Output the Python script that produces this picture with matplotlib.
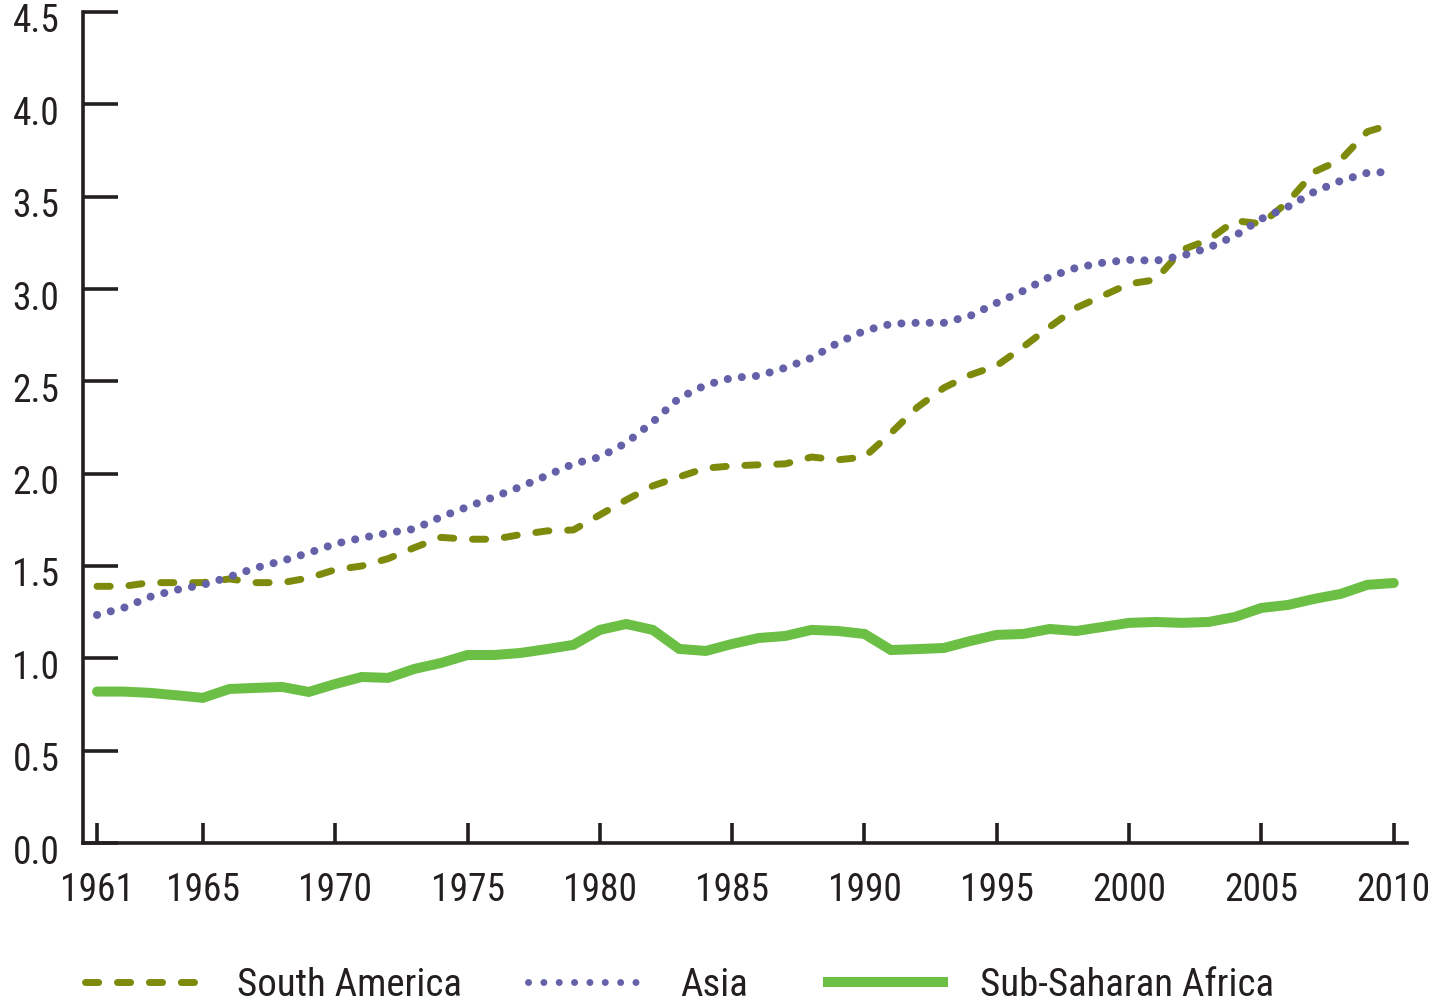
import matplotlib
matplotlib.use("Agg")
import matplotlib.pyplot as plt
from matplotlib import font_manager
from matplotlib.lines import Line2D
import matplotlib.transforms as mtransforms

years = list(range(1961, 2011))

south_america = [1.39, 1.39, 1.41, 1.41, 1.41, 1.43, 1.41, 1.41, 1.435, 1.48,
                 1.50, 1.54, 1.60, 1.655, 1.645, 1.645, 1.67, 1.69, 1.695, 1.777,
                 1.858, 1.934, 1.983, 2.03, 2.042, 2.048, 2.053, 2.09, 2.075, 2.09,
                 2.22, 2.36, 2.465, 2.535, 2.585, 2.687, 2.795, 2.898, 2.963, 3.028,
                 3.05, 3.212, 3.266, 3.37, 3.353, 3.472, 3.635, 3.70, 3.852, 3.895]

asia = [1.235, 1.273, 1.333, 1.371, 1.398, 1.441, 1.49, 1.528, 1.571, 1.62,
        1.652, 1.679, 1.701, 1.766, 1.82, 1.874, 1.929, 1.99, 2.053, 2.09,
        2.167, 2.28, 2.41, 2.48, 2.519, 2.53, 2.573, 2.627, 2.709, 2.774,
        2.811, 2.817, 2.817, 2.855, 2.925, 2.99, 3.066, 3.115, 3.142, 3.158,
        3.153, 3.18, 3.223, 3.288, 3.38, 3.445, 3.527, 3.586, 3.629, 3.635]

sub_saharan_africa = [0.82, 0.82, 0.813, 0.80, 0.786, 0.834, 0.84, 0.845, 0.818, 0.861,
                      0.899, 0.894, 0.943, 0.975, 1.018, 1.018, 1.029, 1.05, 1.073, 1.154,
                      1.186, 1.154, 1.051, 1.04, 1.078, 1.11, 1.121, 1.154, 1.148, 1.132,
                      1.045, 1.05, 1.056, 1.094, 1.127, 1.132, 1.159, 1.148, 1.17, 1.192,
                      1.197, 1.192, 1.197, 1.224, 1.273, 1.289, 1.322, 1.349, 1.398, 1.408]

x_ticks = [1961, 1965, 1970, 1975, 1980, 1985, 1990, 1995, 2000, 2005, 2010]
y_ticks = [0.0, 0.5, 1.0, 1.5, 2.0, 2.5, 3.0, 3.5, 4.0, 4.5]
series_labels = ["South America", "Asia", "Sub-Saharan Africa"]


def pick_condensed_font():
    prefs = ["Liberation Sans Narrow", "Roboto Condensed", "Open Sans Condensed",
             "Noto Sans Condensed", "DejaVu Sans Condensed", "Noto Sans",
             "Open Sans", "Roboto", "DejaVu Sans"]
    cands = []
    for f in font_manager.fontManager.ttflist:
        nm = f.name
        fn = f.fname.lower()
        condensed = ("narrow" in nm.lower() or "condensed" in nm.lower()
                     or f.stretch in ("condensed", "semi-condensed", "extra-condensed")
                     or "condensed" in fn or "narrow" in fn)
        if not condensed:
            continue
        if f.style != "normal":
            continue
        w = f.weight
        if isinstance(w, str):
            w = {"normal": 400, "regular": 400, "book": 400}.get(w, 700)
        if w != 400:
            continue
        if "mono" in nm.lower() or "serif" in nm.lower() and "sans" not in nm.lower():
            continue
        if "bold" in fn or "italic" in fn or "light" in fn or "medium" in fn or "semi" in fn and "semicondensed" not in fn:
            continue
        score = 100
        for i, p in enumerate(prefs):
            if nm.startswith(p) or p.replace(" ", "").lower() in fn.replace("-", "").replace("_", ""):
                score = i
                break
        if "semicondensed" in fn or "semi-condensed" in str(f.stretch):
            score += 0.5
        if "extracondensed" in fn or "extra-condensed" in str(f.stretch):
            score += 0.7
        cands.append((score, f.fname))
    if cands:
        cands.sort()
        return font_manager.FontProperties(fname=cands[0][1])
    return font_manager.FontProperties(family="DejaVu Sans")


FP = pick_condensed_font()
FS = 27
LFS = 28

DARK = "#231F20"
OLIVE = "#7E8A0C"
PURPLE = "#6561A9"
GREEN = "#6CBF45"

fig = plt.figure(figsize=(14.41, 10.02), dpi=100)
ax = fig.add_axes([83 / 1441, (1002 - 843) / 1002, (1407 - 83) / 1441, (843 - 12) / 1002])

ax.plot(years, south_america, color=OLIVE, lw=5.0, dashes=(1.9, 2.7),
        dash_capstyle="round", solid_capstyle="round")
ax.plot(years, asia, color=PURPLE, lw=5.8, dashes=(0.01, 1.75),
        dash_capstyle="round")
ax.plot(years, sub_saharan_africa, color=GREEN, lw=7.2,
        solid_capstyle="round", solid_joinstyle="miter")

ax.set_xlim(1960.47, 2010.5)
ax.set_ylim(0, 4.5)
ax.set_xticks(x_ticks)
ax.set_xticklabels([str(t) for t in x_ticks])
ax.set_yticks(y_ticks)
ax.set_yticklabels([f"{t:.1f}" for t in y_ticks])

for s in ["top", "right"]:
    ax.spines[s].set_visible(False)
for s in ["left", "bottom"]:
    ax.spines[s].set_linewidth(2.6)
    ax.spines[s].set_color(DARK)
    ax.spines[s].set_capstyle("projecting")

ax.tick_params(axis="y", direction="in", length=25, width=2.6, color=DARK,
               labelcolor=DARK, pad=17)
ax.tick_params(axis="x", direction="in", length=14.5, width=2.6, color=DARK,
               labelcolor=DARK, pad=21)

shift_down = mtransforms.ScaledTranslation(0, -6 / 100, fig.dpi_scale_trans)
for lab in ax.get_yticklabels():
    lab.set_fontproperties(FP)
    lab.set_fontsize(FS)
    lab.set_transform(lab.get_transform() + shift_down)
for lab in ax.get_xticklabels():
    lab.set_fontproperties(FP)
    lab.set_fontsize(FS)

handles = [Line2D([], [], color=OLIVE, lw=5.0, dashes=(1.9, 2.7), dash_capstyle="round"),
           Line2D([], [], color=PURPLE, lw=5.0, dashes=(0.01, 2.2), dash_capstyle="round"),
           Line2D([], [], color=GREEN, lw=7.2)]
xs = [85, 528, 828]
leg_fp = FP.copy()
leg_fp.set_size(LFS)
em = LFS * 100 / 72
for h, lab, x0 in zip(handles, series_labels, xs):
    fig.legend([h], [lab], loc="center left", bbox_to_anchor=(x0 / 1441, 17 / 1002),
               frameon=False, prop=leg_fp, handlelength=115 / em,
               handletextpad=37 / em,
               borderpad=0, borderaxespad=0, labelcolor=DARK)

fig.savefig("out.png", dpi=100)
